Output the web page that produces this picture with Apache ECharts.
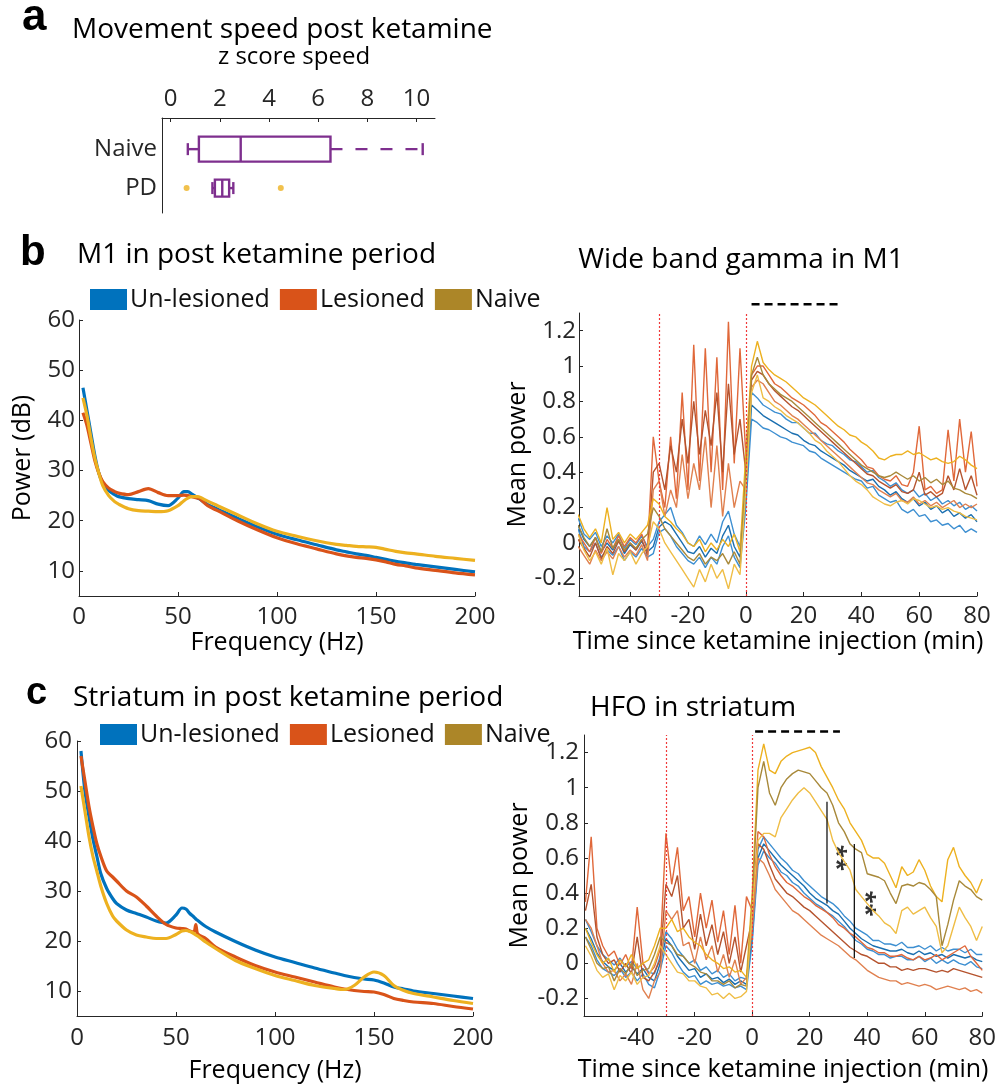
<!DOCTYPE html>
<html>
<head>
<meta charset="utf-8">
<script src="https://cdn.jsdelivr.net/npm/echarts@6.0.0/dist/echarts.min.js"></script>
<style>
html, body { margin: 0; padding: 0; background: #fff; }
#chart { width: 999px; height: 1084px; }
</style>
</head>
<body>
<div id="chart"></div>
<script>
// ---- panel a: movement speed (z score) ----
const speedGroups = ['Naive', 'PD'];
// min, q1, median, q3, max
const speedBox = [
    [0.7, 1.15, 2.85, 6.5, 10.25],
    [1.7, 1.8, 2.1, 2.38, 2.55]
];
const pdOutliers = [0.65, 4.48];
const speedTicks = [0, 2, 4, 6, 8, 10];

// ---- power spectra (dB) ----
const freqHz = [2, 4, 6, 8, 10, 12, 15, 18, 20, 25, 30, 35, 40, 45, 50, 53, 55, 57, 59, 60, 61, 65, 70, 80, 90, 100, 110, 120, 130, 135, 140, 145, 150, 155, 160, 165, 170, 180, 190, 200];
const m1PsdUnlesioned = [46.5, 42, 37.5, 33, 29.5, 27.5, 26, 25.2, 24.8, 24.4, 24.2, 24.0, 23.3, 23.0, 24.5, 25.8, 25.8, 25.3, 24.8, 24.5, 24.3, 23.2, 22.3, 20.5, 18.8, 17.3, 16.2, 15.2, 14.2, 13.8, 13.4, 13.1, 12.7, 12.3, 11.9, 11.6, 11.3, 10.8, 10.3, 9.8];
const m1PsdLesioned = [41.5, 39, 35.5, 32, 29.5, 27.8, 26.5, 25.8, 25.5, 25.2, 25.8, 26.4, 25.6, 25.0, 25.0, 25.1, 25.0, 24.8, 24.6, 24.5, 24.4, 23.0, 22.0, 20.0, 18.2, 16.6, 15.4, 14.4, 13.4, 13.0, 12.7, 12.5, 12.2, 11.8, 11.3, 11.0, 10.6, 10.1, 9.6, 9.2];
const m1PsdNaive = [44.5, 41, 36.5, 32.5, 29.5, 27, 25, 23.8, 23.3, 22.4, 22.0, 21.9, 21.8, 22.0, 23.0, 24.0, 24.5, 24.8, 24.8, 24.8, 24.7, 23.9, 23.0, 21.2, 19.4, 17.9, 16.9, 16.0, 15.3, 15.1, 14.9, 14.8, 14.7, 14.3, 13.9, 13.6, 13.4, 12.9, 12.5, 12.1];
const strPsdUnlesioned = [58, 50, 45, 40.5, 37, 33.5, 30.5, 28.5, 27.5, 26.2, 25.5, 24.8, 24.0, 23.6, 25.2, 26.6, 26.4, 25.5, 24.8, 24.4, 24.1, 22.9, 21.8, 19.9, 18.2, 16.8, 15.7, 14.6, 13.6, 13.1, 12.7, 12.4, 12.2, 11.6, 10.8, 10.4, 10.0, 9.5, 9.0, 8.5];
const strPsdLesioned = [57, 52, 47, 43, 39.5, 37, 34, 32.8, 32, 30, 28.8, 27.0, 25.0, 23.3, 22.6, 22.5, 22.4, 22.0, 21.8, 23.3, 21.4, 20.5, 18.8, 16.8, 15.1, 13.8, 12.8, 11.8, 10.8, 10.4, 10.1, 9.9, 9.8, 9.3, 8.5, 8.1, 7.8, 7.5, 6.9, 6.4];
const strPsdNaive = [51, 46, 41, 37, 34, 31, 27.5, 25, 24, 22.2, 21.2, 20.8, 20.5, 20.5, 21.3, 22.0, 22.1, 21.9, 21.5, 21.2, 21.0, 19.8, 18.5, 16.1, 14.5, 13.1, 12.1, 11.1, 10.5, 10.3, 11.1, 12.8, 13.8, 13.1, 11.1, 10.1, 9.5, 8.8, 8.1, 7.5];
const psdTicks = [10, 20, 30, 40, 50, 60];
const freqTicks = [0, 50, 100, 150, 200];

// ---- mean power over time (mean and +/- sem traces) ----
const timeMin = [-58, -56, -54, -52, -50, -48, -46, -44, -42, -40, -38, -36, -34, -32,
    -30, -28, -26, -24, -22, -20, -18, -16, -14, -12, -10, -8, -6, -4, -2,
    0, 2, 4, 6, 8, 10, 12, 14, 16, 18, 20, 22, 24, 26, 28, 30, 32, 34, 36, 38, 40,
    42, 44, 46, 48, 50, 52, 54, 56, 58, 60, 62, 64, 66, 68, 70, 72, 74, 76, 78, 80];

// wide band gamma, M1
const m1UnUp = [0.14, 0.05, 0.02, 0.06, -0.02, 0.04, 0.0, 0.05, -0.03, 0.02, -0.01, 0.04, -0.02, 0.02,
    0.12, 0.16, 0.2, 0.1, 0.06, 0.0, -0.02, 0.04, -0.01, 0.05, 0.0, 0.12, 0.18, 0.05, -0.02,
    0.3, 0.85, 0.82, 0.78, 0.76, 0.74, 0.73, 0.7, 0.68, 0.68, 0.65, 0.62, 0.62, 0.58, 0.56, 0.55, 0.52, 0.5, 0.47, 0.46, 0.43, 0.4, 0.41, 0.37, 0.35, 0.32, 0.34, 0.3, 0.28, 0.3, 0.26, 0.28, 0.24, 0.26, 0.22, 0.24, 0.21, 0.23, 0.19, 0.21, 0.18];
const m1UnMean = [0.1, 0.02, -0.02, 0.03, -0.05, 0.0, -0.04, 0.02, -0.06, -0.01, -0.04, 0.01, -0.05, -0.02,
    0.09, 0.12, 0.1, 0.05, 0.0, -0.05, -0.06, -0.02, -0.08, -0.03, -0.06, 0.04, 0.1, -0.02, -0.08,
    0.25, 0.78, 0.75, 0.72, 0.7, 0.68, 0.66, 0.64, 0.62, 0.61, 0.58, 0.56, 0.55, 0.52, 0.5, 0.48, 0.46, 0.44, 0.41, 0.39, 0.37, 0.35, 0.36, 0.32, 0.3, 0.27, 0.29, 0.25, 0.23, 0.25, 0.21, 0.23, 0.19, 0.21, 0.17, 0.19, 0.15, 0.17, 0.14, 0.16, 0.12];
const m1UnLow = [0.08, -0.02, -0.05, 0.0, -0.08, -0.04, -0.07, -0.02, -0.1, -0.05, -0.08, -0.03, -0.08, -0.06,
    0.06, 0.08, 0.04, -0.02, -0.06, -0.1, -0.12, -0.08, -0.14, -0.08, -0.12, -0.02, 0.04, -0.08, -0.14,
    0.2, 0.7, 0.68, 0.65, 0.64, 0.62, 0.6, 0.59, 0.57, 0.56, 0.55, 0.52, 0.51, 0.48, 0.46, 0.44, 0.42, 0.4, 0.38, 0.36, 0.35, 0.31, 0.32, 0.27, 0.25, 0.23, 0.24, 0.19, 0.17, 0.19, 0.15, 0.16, 0.12, 0.13, 0.1, 0.11, 0.08, 0.1, 0.06, 0.08, 0.06];
const m1LesUp = [0.05, 0.0, -0.05, 0.03, -0.06, 0.02, -0.03, 0.04, -0.02, 0.03, 0.0, 0.05, -0.04, 0.6,
    0.35, 0.2, 0.6, 0.25, 0.85, 0.3, 1.12, 0.35, 1.1, 0.4, 1.05, 0.3, 1.25, 0.45, 1.1,
    0.5, 0.95, 1.0, 1.0, 0.95, 0.9, 0.88, 0.85, 0.82, 0.8, 0.78, 0.75, 0.72, 0.68, 0.66, 0.63, 0.6, 0.57, 0.53, 0.5, 0.47, 0.43, 0.42, 0.38, 0.36, 0.35, 0.38, 0.33, 0.32, 0.4, 0.66, 0.3, 0.32, 0.28, 0.3, 0.64, 0.35, 0.7, 0.4, 0.63, 0.32];
const m1LesMean = [0.02, -0.03, -0.08, 0.0, -0.09, -0.02, -0.06, 0.01, -0.05, 0.0, -0.04, 0.02, -0.07, 0.4,
    0.45, 0.3, 0.55, 0.4, 0.7, 0.45, 0.8, 0.5, 0.75, 0.55, 0.85, 0.4, 0.9, 0.5, 0.7,
    0.4, 0.92, 0.97, 0.95, 0.9, 0.86, 0.83, 0.8, 0.77, 0.75, 0.72, 0.69, 0.66, 0.63, 0.6, 0.57, 0.54, 0.51, 0.48, 0.45, 0.42, 0.39, 0.38, 0.35, 0.33, 0.31, 0.33, 0.29, 0.28, 0.3, 0.4, 0.27, 0.29, 0.26, 0.28, 0.38, 0.3, 0.42, 0.3, 0.38, 0.27];
const m1LesLow = [-0.02, -0.07, -0.12, -0.04, -0.1, -0.05, -0.09, -0.02, -0.08, -0.04, -0.07, -0.01, -0.1, 0.3,
    0.35, 0.15, 0.3, 0.2, 0.5, 0.25, 0.45, 0.3, 0.6, 0.2, 0.55, 0.15, 0.45, 0.2, 0.35,
    0.3, 0.88, 0.92, 0.9, 0.85, 0.8, 0.78, 0.75, 0.72, 0.7, 0.67, 0.64, 0.61, 0.58, 0.55, 0.52, 0.49, 0.46, 0.43, 0.4, 0.37, 0.34, 0.33, 0.3, 0.28, 0.26, 0.28, 0.24, 0.23, 0.26, 0.22, 0.24, 0.21, 0.23, 0.2, 0.22, 0.24, 0.2, 0.22, 0.2, 0.22];
const m1NaUp = [0.16, 0.08, 0.03, 0.08, 0.0, 0.2, 0.02, 0.06, 0.0, 0.05, 0.02, 0.06, 0.1, 0.25,
    0.22, 0.15, 0.12, 0.08, 0.05, 0.0, -0.02, 0.02, -0.05, 0.0, -0.04, 0.02, -0.02, 0.05, -0.05,
    0.5, 1.0, 1.14, 1.02, 0.98, 0.95, 0.93, 0.91, 0.88, 0.85, 0.82, 0.8, 0.78, 0.75, 0.72, 0.69, 0.66, 0.64, 0.61, 0.6, 0.57, 0.55, 0.52, 0.48, 0.47, 0.49, 0.5, 0.5, 0.52, 0.5, 0.51, 0.49, 0.47, 0.48, 0.46, 0.45, 0.46, 0.49, 0.47, 0.44, 0.42];
const m1NaMean = [0.1, 0.03, -0.02, 0.03, -0.05, 0.08, -0.03, 0.02, -0.04, 0.0, -0.03, 0.02, 0.05, 0.2,
    0.15, 0.08, 0.04, 0.0, -0.04, -0.08, -0.1, -0.06, -0.12, -0.08, -0.1, -0.06, -0.12, -0.05, -0.12,
    0.4, 0.95, 1.05, 0.95, 0.9, 0.87, 0.84, 0.82, 0.8, 0.77, 0.74, 0.71, 0.68, 0.65, 0.62, 0.59, 0.56, 0.53, 0.5, 0.47, 0.44, 0.42, 0.4, 0.38, 0.37, 0.38, 0.4, 0.38, 0.36, 0.38, 0.35, 0.37, 0.34, 0.36, 0.33, 0.35, 0.31, 0.3, 0.28, 0.27, 0.25];
const m1NaLow = [0.05, -0.04, -0.1, -0.05, -0.12, -0.03, -0.18, -0.06, -0.1, -0.05, -0.12, -0.06, -0.02, 0.12,
    0.08, 0.0, -0.05, -0.1, -0.15, -0.2, -0.25, -0.15, -0.22, -0.12, -0.2, -0.15, -0.26, -0.12, -0.18,
    0.3, 0.85, 0.95, 0.82, 0.8, 0.77, 0.75, 0.72, 0.7, 0.68, 0.65, 0.62, 0.58, 0.56, 0.52, 0.49, 0.46, 0.42, 0.38, 0.35, 0.33, 0.3, 0.26, 0.24, 0.22, 0.21, 0.23, 0.24, 0.22, 0.25, 0.24, 0.22, 0.2, 0.21, 0.19, 0.2, 0.18, 0.17, 0.15, 0.14, 0.13];

// HFO, striatum
const stUnUp = [0.25, 0.18, 0.1, 0.05, 0.02, -0.01, 0.03, -0.02, 0.01, -0.03, 0.0, -0.05, -0.06, 0.04,
    0.18, 0.14, 0.08, 0.04, 0.0, 0.02, -0.04, -0.02, -0.06, -0.04, -0.08, -0.06, -0.1, -0.08, -0.09,
    0.18, 0.65, 0.72, 0.68, 0.64, 0.6, 0.57, 0.53, 0.51, 0.47, 0.44, 0.41, 0.38, 0.36, 0.34, 0.31, 0.27, 0.24, 0.2, 0.18, 0.16, 0.13, 0.13, 0.11, 0.11, 0.1, 0.12, 0.09, 0.09, 0.1, 0.08, 0.1, 0.07, 0.09, 0.07, 0.08, 0.08, 0.06, 0.08, 0.05, 0.05];
const stUnMean = [0.2, 0.14, 0.06, 0.01, -0.02, -0.04, 0.0, -0.05, -0.02, -0.06, -0.03, -0.08, -0.1, 0.0,
    0.14, 0.1, 0.04, 0.0, -0.04, -0.03, -0.08, -0.06, -0.09, -0.08, -0.11, -0.09, -0.12, -0.1, -0.12,
    0.15, 0.6, 0.68, 0.64, 0.6, 0.56, 0.53, 0.5, 0.47, 0.44, 0.4, 0.37, 0.35, 0.33, 0.3, 0.28, 0.24, 0.2, 0.17, 0.14, 0.12, 0.1, 0.09, 0.08, 0.07, 0.07, 0.08, 0.06, 0.05, 0.07, 0.05, 0.06, 0.04, 0.05, 0.03, 0.05, 0.04, 0.03, 0.04, 0.02, 0.01];
const stUnLow = [0.15, 0.1, 0.02, -0.03, -0.05, -0.07, -0.03, -0.08, -0.05, -0.1, -0.06, -0.12, -0.14, -0.04,
    0.1, 0.06, 0.0, -0.05, -0.08, -0.07, -0.12, -0.1, -0.12, -0.11, -0.13, -0.12, -0.14, -0.13, -0.15,
    0.12, 0.56, 0.64, 0.6, 0.57, 0.52, 0.5, 0.46, 0.44, 0.4, 0.37, 0.34, 0.32, 0.29, 0.27, 0.24, 0.21, 0.17, 0.13, 0.11, 0.08, 0.07, 0.05, 0.05, 0.03, 0.04, 0.04, 0.02, 0.02, 0.04, 0.01, 0.03, 0.0, 0.02, 0.0, 0.02, 0.0, -0.01, 0.01, -0.02, -0.03];
const stLesUp = [0.35, 0.72, 0.2, 0.1, 0.04, 0.07, -0.01, 0.05, -0.03, 0.32, 0.0, -0.06, -0.02, 0.08,
    0.74, 0.45, 0.66, 0.3, 0.38, 0.15, 0.4, 0.2, 0.36, 0.12, 0.3, 0.05, 0.33, 0.0, 0.38,
    0.3, 0.75, 0.72, 0.62, 0.55, 0.5, 0.46, 0.44, 0.41, 0.38, 0.36, 0.33, 0.31, 0.29, 0.26, 0.22, 0.2, 0.17, 0.15, 0.12, 0.09, 0.08, 0.06, 0.06, 0.04, 0.04, 0.05, 0.03, 0.02, 0.04, 0.02, 0.03, 0.05, 0.02, 0.04, 0.06, 0.08, 0.1, 0.04, 0.0, -0.04];
const stLesMean = [0.3, 0.45, 0.15, 0.05, 0.0, 0.02, -0.05, 0.0, -0.06, 0.15, -0.08, -0.1, -0.05, 0.02,
    0.45, 0.38, 0.5, 0.2, 0.25, 0.08, 0.28, 0.1, 0.22, 0.05, 0.18, 0.0, 0.15, -0.05, 0.1,
    0.25, 0.68, 0.65, 0.56, 0.48, 0.44, 0.4, 0.38, 0.35, 0.32, 0.3, 0.27, 0.24, 0.21, 0.18, 0.15, 0.12, 0.09, 0.07, 0.05, 0.04, 0.02, 0.0, 0.0, -0.02, -0.02, -0.04, -0.03, -0.04, -0.03, -0.03, -0.04, -0.05, -0.04, -0.05, -0.03, -0.04, -0.05, -0.06, -0.07, -0.08];
const stLesLow = [0.25, 0.2, 0.1, 0.0, -0.05, -0.04, -0.1, -0.06, -0.12, 0.0, -0.15, -0.2, -0.1, -0.05,
    0.3, 0.25, 0.3, 0.1, 0.12, 0.0, 0.15, 0.02, 0.1, -0.05, 0.05, -0.08, 0.02, -0.12, -0.08,
    0.2, 0.6, 0.57, 0.5, 0.42, 0.38, 0.34, 0.3, 0.28, 0.25, 0.22, 0.19, 0.16, 0.14, 0.12, 0.1, 0.07, 0.04, 0.02, -0.01, -0.04, -0.06, -0.08, -0.09, -0.1, -0.1, -0.12, -0.11, -0.12, -0.13, -0.12, -0.13, -0.15, -0.14, -0.13, -0.14, -0.15, -0.14, -0.16, -0.15, -0.17];
const stNaUp = [0.2, 0.12, 0.05, 0.0, 0.03, -0.05, 0.02, -0.02, 0.05, -0.03, 0.0, 0.02, 0.1, 0.2,
    0.2, 0.25, 0.18, 0.2, 0.15, 0.12, 0.1, 0.05, 0.02, 0.0, -0.03, -0.02, -0.05, -0.04, -0.08,
    0.4, 1.1, 1.25, 1.1, 1.08, 1.15, 1.18, 1.2, 1.21, 1.22, 1.23, 1.2, 1.12, 1.06, 1.0, 0.93, 0.88, 0.8, 0.75, 0.7, 0.62, 0.6, 0.6, 0.57, 0.5, 0.43, 0.55, 0.5, 0.52, 0.59, 0.53, 0.44, 0.38, 0.35, 0.59, 0.66, 0.55, 0.5, 0.46, 0.4, 0.48];
const stNaMean = [0.15, 0.08, 0.0, -0.03, -0.02, -0.1, -0.03, -0.06, 0.0, -0.07, -0.04, -0.03, 0.05, 0.15,
    0.12, 0.1, 0.05, 0.04, 0.0, -0.02, -0.05, -0.06, -0.1, -0.1, -0.12, -0.1, -0.14, -0.12, -0.13,
    0.35, 1.0, 1.15, 0.97, 0.9, 1.0, 1.05, 1.08, 1.1, 1.09, 1.08, 1.04, 1.0, 0.97, 0.9, 0.8, 0.75, 0.68, 0.65, 0.63, 0.51, 0.5, 0.49, 0.47, 0.4, 0.34, 0.44, 0.45, 0.44, 0.46, 0.45, 0.42, 0.38, 0.1, 0.22, 0.36, 0.47, 0.44, 0.42, 0.38, 0.36];
const stNaLow = [0.1, 0.04, -0.04, -0.08, -0.06, -0.15, -0.07, -0.1, -0.05, -0.12, -0.08, -0.07, 0.0, 0.1,
    0.05, 0.0, -0.05, -0.06, -0.1, -0.1, -0.13, -0.14, -0.18, -0.17, -0.2, -0.17, -0.2, -0.19, -0.16,
    0.3, 0.7, 0.74, 0.74, 0.72, 0.83, 0.88, 0.93, 0.97, 1.0, 0.97, 0.92, 0.87, 0.82, 0.7, 0.63, 0.58, 0.53, 0.42, 0.38, 0.34, 0.3, 0.27, 0.23, 0.21, 0.17, 0.3, 0.32, 0.28, 0.3, 0.32, 0.26, 0.21, 0.06, 0.1, 0.21, 0.32, 0.26, 0.21, 0.13, 0.21];

const eventTimes = [-30, 0];
const timeTicks = [-40, -20, 0, 20, 40, 60, 80];
const powerTicks = [-0.2, 0, 0.2, 0.4, 0.6, 0.8, 1, 1.2];
// window marked by the dashed bar above each trace panel
const m1Window = [2, 32];
const strWindow = [1, 30.5];
// significance bars in the striatum panel
const sigTimes = [26, 35.5];
const sigTops = [0.92, 0.68];
const sigBottoms = [0.34, 0.03];
const starTimes = [29, 39];
const starLevels = [0.6, 0.34];

const FONT = 'Open Sans';
const AXIS_COLOR = '#262626';
const C_BLUE = '#0072BD', C_ORANGE = '#D95319', C_YELLOW = '#EDB120';
const TICK_SIZE = 24, NAME_SIZE = 25, TITLE_SIZE = 28;

const chart = echarts.init(document.querySelector('#chart'));

function baseAxis(grid, extra) {
    return Object.assign({
        gridIndex: grid,
        axisLine: { show: true, onZero: false, lineStyle: { color: AXIS_COLOR, width: 1 } },
        axisTick: { show: true, inside: true, length: 4, lineStyle: { color: AXIS_COLOR } },
        axisLabel: { color: AXIS_COLOR, fontSize: TICK_SIZE, fontFamily: FONT },
        splitLine: { show: false },
        nameTextStyle: { color: '#000', fontSize: NAME_SIZE, fontFamily: FONT },
        nameLocation: 'middle'
    }, extra);
}

function withTicks(axis, values, margin) {
    axis.axisTick.customValues = values;
    axis.axisLabel.customValues = values;
    axis.axisLabel.margin = margin;
    return axis;
}

function trace(name, values, grid, color, width) {
    return {
        name: name,
        type: 'line',
        xAxisIndex: grid,
        yAxisIndex: grid,
        data: timeMin.map((t, i) => [t, values[i]]),
        symbol: 'none',
        silent: true,
        lineStyle: { color: color, width: width || 1.4 },
        itemStyle: { color: color }
    };
}

function psd(name, values, grid, color) {
    return {
        name: name,
        type: 'line',
        xAxisIndex: grid,
        yAxisIndex: grid,
        data: freqHz.map((f, i) => [f, values[i]]),
        symbol: 'none',
        smooth: 0.3,
        silent: true,
        lineStyle: { color: color, width: 3.2 },
        itemStyle: { color: color }
    };
}

function eventLines(series) {
    series.markLine = {
        silent: true,
        symbol: 'none',
        label: { show: false },
        lineStyle: { color: '#F03A3A', type: [2, 2], width: 1.2, opacity: 1 },
        emphasis: { disabled: true },
        data: eventTimes.map(t => ({ xAxis: t }))
    };
    return series;
}

function windowBar(grid, win, level) {
    return {
        type: 'line',
        xAxisIndex: grid,
        yAxisIndex: grid,
        data: win.map(t => [t, level]),
        clip: false,
        symbol: 'none',
        silent: true,
        lineStyle: { color: '#000', width: 2.5, type: [8, 5] }
    };
}

// horizontal box plot drawn through the axes
function renderBox(params, api) {
    const pos = api.value(0);
    const p = [1, 2, 3, 4, 5].map(k => api.coord([api.value(k), pos]));
    const y = p[0][1];
    const h = params.dataIndex === 0 ? 12.5 : 8.5;
    const cap = 6;
    const st = { stroke: '#7E2F8E', lineWidth: 2.4, fill: 'none' };
    const dash = Object.assign({}, st, { lineDash: [12, 13] });
    return {
        type: 'group',
        children: [
            { type: 'line', shape: { x1: p[0][0], y1: y, x2: p[1][0], y2: y }, style: dash },
            { type: 'line', shape: { x1: p[3][0], y1: y, x2: p[4][0], y2: y }, style: dash },
            { type: 'line', shape: { x1: p[0][0], y1: y - cap, x2: p[0][0], y2: y + cap }, style: st },
            { type: 'line', shape: { x1: p[4][0], y1: y - cap, x2: p[4][0], y2: y + cap }, style: st },
            { type: 'rect', shape: { x: p[1][0], y: y - h, width: p[3][0] - p[1][0], height: 2 * h }, style: st },
            { type: 'line', shape: { x1: p[2][0], y1: y - h, x2: p[2][0], y2: y + h }, style: st }
        ]
    };
}

const legendBase = {
    icon: 'rect',
    itemWidth: 37,
    itemHeight: 21,
    itemGap: 10,
    padding: 0,
    selectedMode: false,
    textStyle: { fontSize: 25, color: '#111', fontFamily: FONT, padding: [0, 0, 0, -2] },
    data: [
        { name: 'Un-lesioned', itemStyle: { color: C_BLUE } },
        { name: 'Lesioned', itemStyle: { color: C_ORANGE } },
        { name: 'Naive', itemStyle: { color: '#AC8628' } }
    ]
};

function label(text, x, y, font, align) {
    return {
        type: 'text',
        x: x,
        y: y,
        silent: true,
        style: {
            text: text,
            font: font,
            fill: '#000',
            align: align || 'left',
            verticalAlign: 'middle'
        }
    };
}
const titleFont = TITLE_SIZE + 'px "' + FONT + '"';

const series = [];

// panel a
series.push({
    type: 'custom',
    xAxisIndex: 0,
    yAxisIndex: 0,
    renderItem: renderBox,
    encode: { x: [1, 2, 3, 4, 5], y: 0 },
    data: speedBox.map((b, i) => [i + 1].concat(b)),
    silent: true
});
series.push({
    type: 'scatter',
    xAxisIndex: 0,
    yAxisIndex: 0,
    symbol: 'circle',
    symbolSize: 6,
    itemStyle: { color: C_YELLOW },
    data: pdOutliers.map(v => [v, 2]),
    silent: true
});

// panel b left / c left
series.push(psd('Un-lesioned', m1PsdUnlesioned, 1, C_BLUE));
series.push(psd('Lesioned', m1PsdLesioned, 1, C_ORANGE));
series.push(psd('Naive', m1PsdNaive, 1, C_YELLOW));
series.push(psd('Un-lesioned', strPsdUnlesioned, 3, C_BLUE));
series.push(psd('Lesioned', strPsdLesioned, 3, C_ORANGE));
series.push(psd('Naive', strPsdNaive, 3, C_YELLOW));

// panel b right
series.push(eventLines(trace('m1 un up', m1UnUp, 2, '#3D8FD1')));
series.push(trace('m1 un mean', m1UnMean, 2, '#1A6FB0'));
series.push(trace('m1 un low', m1UnLow, 2, '#3D8FD1'));
series.push(trace('m1 les up', m1LesUp, 2, '#E0683A'));
series.push(trace('m1 les mean', m1LesMean, 2, '#B5532E'));
series.push(trace('m1 les low', m1LesLow, 2, '#E0804F'));
series.push(trace('m1 na up', m1NaUp, 2, C_YELLOW));
series.push(trace('m1 na mean', m1NaMean, 2, '#A8893A'));
series.push(trace('m1 na low', m1NaLow, 2, '#EFBD45'));
series.push(windowBar(2, m1Window, 1.35));

// panel c right
series.push(eventLines(trace('st un up', stUnUp, 4, '#3D8FD1')));
series.push(trace('st un mean', stUnMean, 4, '#1A6FB0'));
series.push(trace('st un low', stUnLow, 4, '#3D8FD1'));
series.push(trace('st les up', stLesUp, 4, '#E0683A'));
series.push(trace('st les mean', stLesMean, 4, '#B5532E'));
series.push(trace('st les low', stLesLow, 4, '#E0804F'));
series.push(trace('st na up', stNaUp, 4, C_YELLOW));
series.push(trace('st na mean', stNaMean, 4, '#A8893A'));
series.push(trace('st na low', stNaLow, 4, '#EFBD45'));
series.push(windowBar(4, strWindow, 1.32));
sigTimes.forEach((t, i) => {
    series.push({
        type: 'line',
        xAxisIndex: 4,
        yAxisIndex: 4,
        data: [[t, sigBottoms[i]], [t, sigTops[i]]],
        symbol: 'none',
        silent: true,
        lineStyle: { color: '#000', width: 1.2 }
    });
});
series.push({
    type: 'scatter',
    xAxisIndex: 4,
    yAxisIndex: 4,
    symbolSize: 0,
    silent: true,
    data: starTimes.map((t, i) => [t, starLevels[i]]),
    label: {
        show: true,
        position: 'inside',
        formatter: '**',
        rotate: -90,
        fontSize: 24,
        fontWeight: 'bold',
        color: '#000',
        fontFamily: FONT
    }
});

chart.setOption({
    animation: false,
    textStyle: { fontFamily: FONT },
    grid: [
        { left: 162, top: 118, width: 273, height: 95 },
        { left: 79, top: 320, width: 396, height: 276 },
        { left: 579, top: 313, width: 398, height: 283 },
        { left: 77, top: 741, width: 396, height: 275 },
        { left: 584, top: 735, width: 399, height: 281 }
    ],
    xAxis: [
        withTicks(baseAxis(0, { type: 'value', position: 'top', min: -0.35, max: 10.75 }), speedTicks, 7),
        withTicks(baseAxis(1, { type: 'value', min: 0, max: 200, name: 'Frequency (Hz)', nameGap: 27 }), freqTicks, 9),
        withTicks(baseAxis(2, { type: 'value', min: -57.7, max: 80, name: 'Time since ketamine injection (min)', nameGap: 30 }), timeTicks, 8),
        withTicks(baseAxis(3, { type: 'value', min: 0, max: 200, name: 'Frequency (Hz)', nameGap: 42 }), freqTicks, 10),
        withTicks(baseAxis(4, { type: 'value', min: -58.5, max: 80, name: 'Time since ketamine injection (min)', nameGap: 41 }), timeTicks, 10)
    ],
    yAxis: [
        withTicks(baseAxis(0, { type: 'value', inverse: true, min: 0.2, max: 2.64 }), [1, 2], 5),
        withTicks(baseAxis(1, { type: 'value', min: 5, max: 60, name: 'Power (dB)', nameGap: 44 }), psdTicks, 4),
        withTicks(baseAxis(2, { type: 'value', min: -0.3, max: 1.3, name: 'Mean power', nameGap: 44 }), powerTicks, 3),
        withTicks(baseAxis(3, { type: 'value', min: 5, max: 60 }), psdTicks, 5),
        withTicks(baseAxis(4, { type: 'value', min: -0.3, max: 1.3, name: 'Mean power', nameGap: 52 }), powerTicks, 5)
    ],
    legend: [
        Object.assign({ left: 90, top: 287 }, legendBase),
        Object.assign({ left: 100, top: 722 }, legendBase)
    ],
    graphic: [
        label('a', 22, 18, 'bold 44px "Liberation Sans"'),
        label('Movement speed post ketamine', 72, 30, titleFont),
        label('z score speed', 294, 57, '24px "' + FONT + '"', 'center'),
        label('b', 20, 253, 'bold 42px "Liberation Sans"'),
        label('M1 in post ketamine period', 77, 255, titleFont),
        label('Wide band gamma in M1', 741, 260, titleFont, 'center'),
        label('c', 26, 694, 'bold 38px "Liberation Sans"'),
        label('Striatum in post ketamine period', 73, 698, titleFont),
        label('HFO in striatum', 590, 708, titleFont)
    ],
    series: series
});

// y tick names for the box plot
chart.setOption({
    yAxis: [{ axisLabel: { formatter: v => speedGroups[Math.round(v) - 1] || '' }, axisTick: { show: false } }]
});
</script>
</body>
</html>
